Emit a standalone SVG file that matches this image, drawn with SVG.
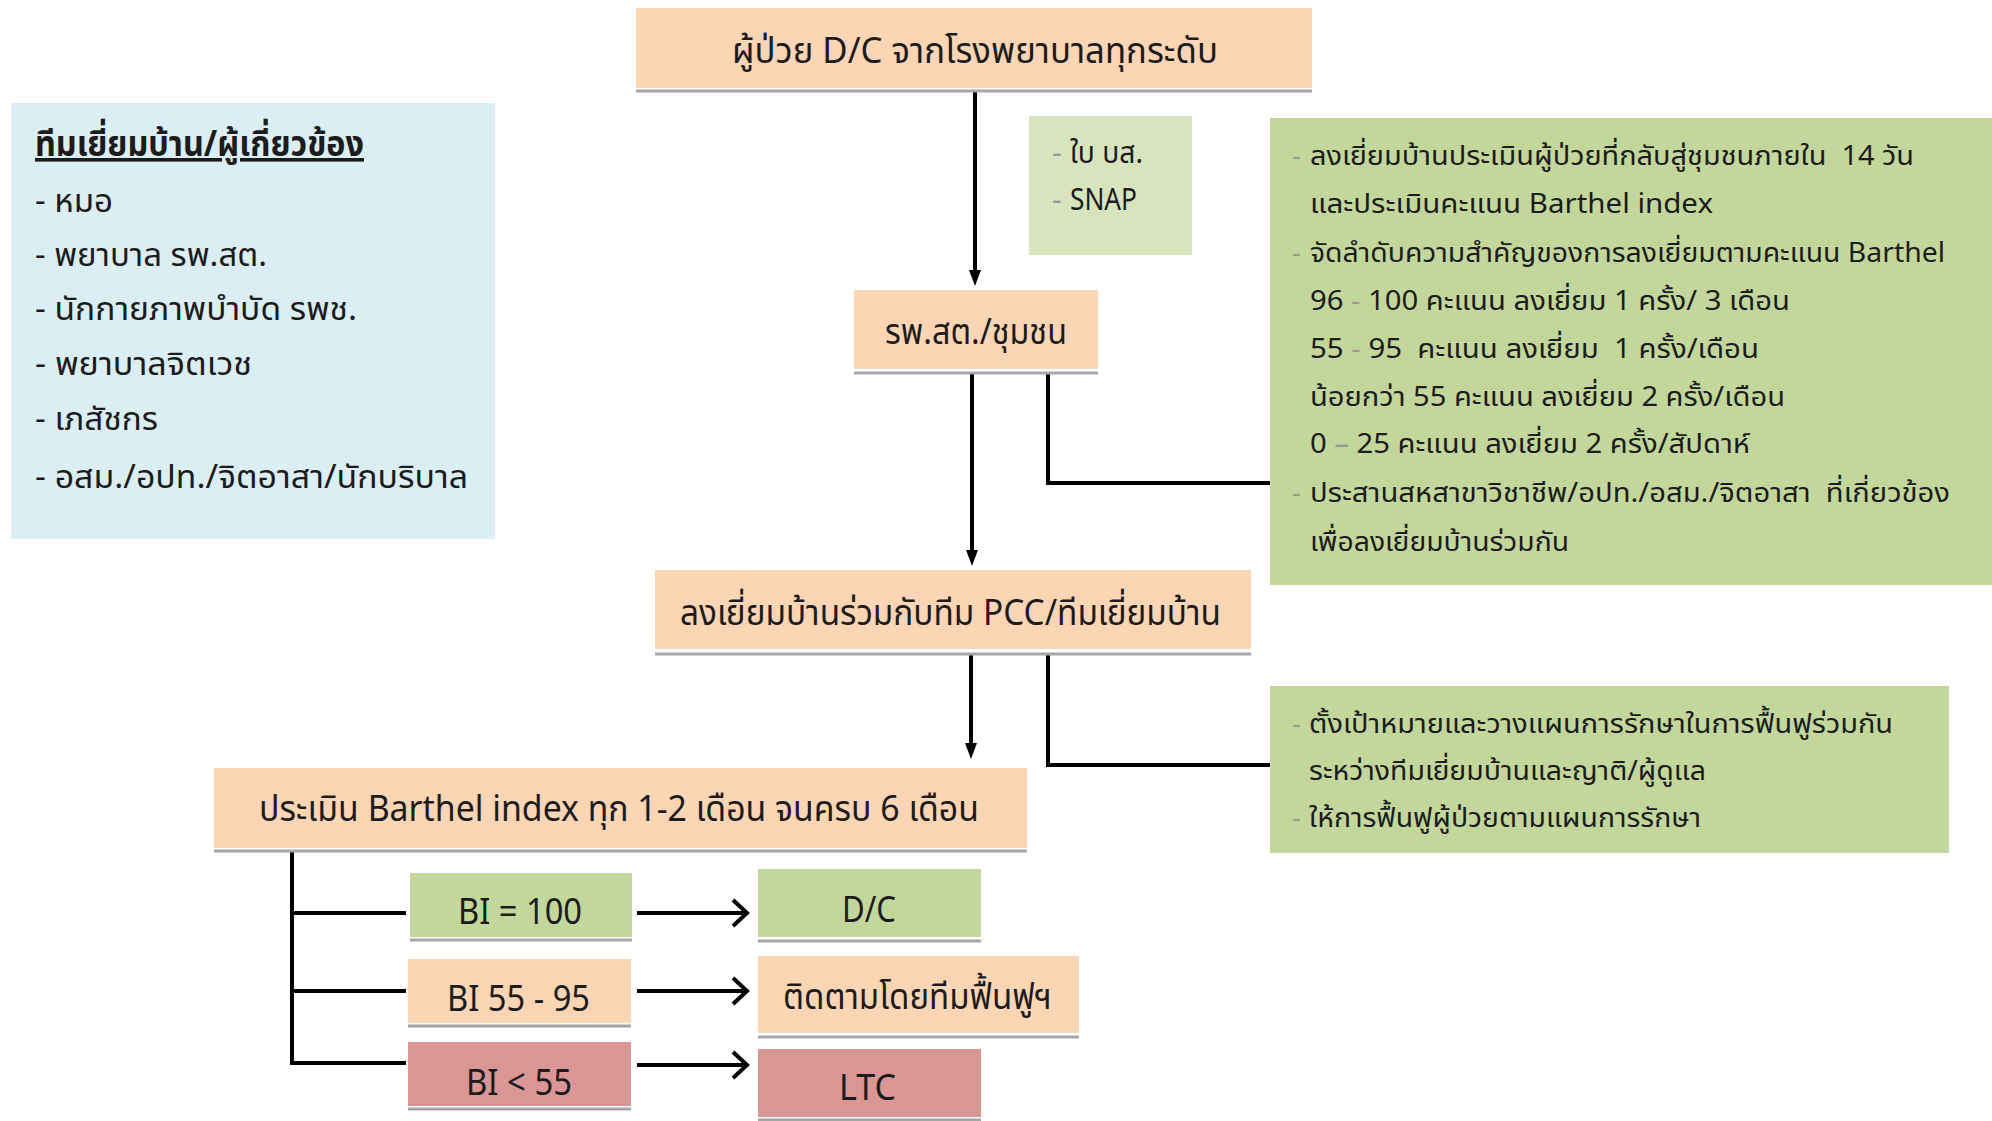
<svg xmlns="http://www.w3.org/2000/svg" width="1992" height="1121" viewBox="0 0 1992 1121">
<defs>
<style>
.t{font-family:"Noto Sans Thai","Noto Sans","DejaVu Sans",sans-serif;fill:#1c1c1c}
.peach{fill:#FCD5B5}
.green{fill:#C3D69B}
.lgreen{fill:#D7E4BD}
.blue{fill:#DBEEF4}
.red{fill:#D99694}
.sh{stroke:#A6A6A6;stroke-width:3;fill:none}
.ln{stroke:#000;stroke-width:4;fill:none}
.dash{fill:#9a9a9a}
.big{font-size:36px}
.mid{font-size:30px}
.sm{font-size:27px}
</style>
</defs>
<rect width="1992" height="1121" fill="#fff"/>

<g id="connectors">
<line class="ln" x1="975" y1="90" x2="975" y2="272"/>
<path d="M969,270 L981,270 L975,286 z" fill="#000"/>
<line class="ln" x1="972" y1="374" x2="972" y2="552"/>
<path d="M966,550 L978,550 L972,566 z" fill="#000"/>
<line class="ln" x1="971" y1="655" x2="971" y2="745"/>
<path d="M965,743 L977,743 L971,759 z" fill="#000"/>
<polyline class="ln" points="1048,374 1048,483 1270,483"/>
<polyline class="ln" points="1048,655 1048,765 1270,765"/>
<line class="ln" x1="292" y1="851" x2="292" y2="1065"/>
<line class="ln" x1="290" y1="913" x2="406" y2="913"/>
<line class="ln" x1="290" y1="991" x2="406" y2="991"/>
<line class="ln" x1="290" y1="1063" x2="406" y2="1063"/>
<line class="ln" x1="637" y1="913" x2="746" y2="913"/>
<polyline class="ln" points="733,900 747,913 733,926"/>
<line class="ln" x1="637" y1="991" x2="746" y2="991"/>
<polyline class="ln" points="733,978 747,991 733,1004"/>
<line class="ln" x1="637" y1="1065" x2="746" y2="1065"/>
<polyline class="ln" points="733,1052 747,1065 733,1078"/>
</g>

<g id="n-top">
<rect class="peach" x="636" y="8" width="676" height="80"/>
<line class="sh" x1="636" y1="91" x2="1312" y2="91"/>
<text class="t big" x="732" y="63" textLength="486" lengthAdjust="spacingAndGlyphs">ผู้ป่วย D/C จากโรงพยาบาลทุกระดับ</text>
</g>

<g id="n-team">
<rect class="blue" x="11" y="103" width="484" height="436"/>
<text class="t" x="35" y="156" font-size="36" font-weight="bold" text-decoration="underline" textLength="329" lengthAdjust="spacingAndGlyphs">ทีมเยี่ยมบ้าน/ผู้เกี่ยวข้อง</text>
<text class="t" x="35" y="212" font-size="32" textLength="78" lengthAdjust="spacingAndGlyphs">- หมอ</text>
<text class="t" x="35" y="266" font-size="32" textLength="232" lengthAdjust="spacingAndGlyphs">- พยาบาล รพ.สต.</text>
<text class="t" x="35" y="320" font-size="32" textLength="322" lengthAdjust="spacingAndGlyphs">- นักกายภาพบำบัด รพช.</text>
<text class="t" x="35" y="375" font-size="32" textLength="217" lengthAdjust="spacingAndGlyphs">- พยาบาลจิตเวช</text>
<text class="t" x="35" y="430" font-size="32" textLength="123" lengthAdjust="spacingAndGlyphs">- เภสัชกร</text>
<text class="t" x="35" y="488" font-size="32" textLength="433" lengthAdjust="spacingAndGlyphs">- อสม./อปท./จิตอาสา/นักบริบาล</text>
</g>

<g id="n-snap">
<rect class="lgreen" x="1029" y="116" width="163" height="139"/>
<text class="t dash mid" x="1052" y="163">-</text>
<text class="t mid" x="1070" y="163" textLength="73" lengthAdjust="spacingAndGlyphs">ใบ บส.</text>
<text class="t dash mid" x="1052" y="210">-</text>
<text class="t mid" x="1070" y="210" textLength="67" lengthAdjust="spacingAndGlyphs">SNAP</text>
</g>

<g id="n-visit-notes">
<rect class="green" x="1270" y="118" width="722" height="467"/>
<text class="t dash sm" x="1292" y="165">-</text>
<text class="t sm" x="1310" y="165" xml:space="preserve" textLength="604" lengthAdjust="spacingAndGlyphs">ลงเยี่ยมบ้านประเมินผู้ป่วยที่กลับสู่ชุมชนภายใน  14 วัน</text>
<text class="t sm" x="1310" y="213" textLength="403" lengthAdjust="spacingAndGlyphs">และประเมินคะแนน Barthel index</text>
<text class="t dash sm" x="1292" y="262">-</text>
<text class="t sm" x="1310" y="262" textLength="635" lengthAdjust="spacingAndGlyphs">จัดลำดับความสำคัญของการลงเยี่ยมตามคะแนน Barthel</text>
<text class="t sm" x="1310" y="310" textLength="480" lengthAdjust="spacingAndGlyphs">96 <tspan class="dash">-</tspan> 100 คะแนน ลงเยี่ยม 1 ครั้ง/ 3 เดือน</text>
<text class="t sm" x="1310" y="358" xml:space="preserve" textLength="449" lengthAdjust="spacingAndGlyphs">55 <tspan class="dash">-</tspan> 95  คะแนน ลงเยี่ยม  1 ครั้ง/เดือน</text>
<text class="t sm" x="1310" y="406" textLength="475" lengthAdjust="spacingAndGlyphs">น้อยกว่า 55 คะแนน ลงเยี่ยม 2 ครั้ง/เดือน</text>
<text class="t sm" x="1310" y="453" textLength="440" lengthAdjust="spacingAndGlyphs">0 <tspan class="dash">–</tspan> 25 คะแนน ลงเยี่ยม 2 ครั้ง/สัปดาห์</text>
<text class="t dash sm" x="1292" y="502">-</text>
<text class="t sm" x="1310" y="502" xml:space="preserve" textLength="640" lengthAdjust="spacingAndGlyphs">ประสานสหสาขาวิชาชีพ/อปท./อสม./จิตอาสา  ที่เกี่ยวข้อง</text>
<text class="t sm" x="1310" y="551" textLength="259" lengthAdjust="spacingAndGlyphs">เพื่อลงเยี่ยมบ้านร่วมกัน</text>
</g>

<g id="n-rpst">
<rect class="peach" x="854" y="290" width="244" height="79"/>
<line class="sh" x1="854" y1="373" x2="1098" y2="373"/>
<text class="t big" x="885" y="344" textLength="182" lengthAdjust="spacingAndGlyphs">รพ.สต./ชุมชน</text>
</g>

<g id="n-pcc">
<rect class="peach" x="655" y="570" width="596" height="79"/>
<line class="sh" x1="655" y1="654" x2="1251" y2="654"/>
<text class="t big" x="680" y="625" textLength="541" lengthAdjust="spacingAndGlyphs">ลงเยี่ยมบ้านร่วมกับทีม PCC/ทีมเยี่ยมบ้าน</text>
</g>

<g id="n-plan-notes">
<rect class="green" x="1270" y="686" width="679" height="167"/>
<text class="t dash sm" x="1292" y="733">-</text>
<text class="t sm" x="1309" y="733" textLength="584" lengthAdjust="spacingAndGlyphs">ตั้งเป้าหมายและวางแผนการรักษาในการฟื้นฟูร่วมกัน</text>
<text class="t sm" x="1309" y="780" textLength="397" lengthAdjust="spacingAndGlyphs">ระหว่างทีมเยี่ยมบ้านและญาติ/ผู้ดูแล</text>
<text class="t dash sm" x="1292" y="827">-</text>
<text class="t sm" x="1309" y="827" textLength="392" lengthAdjust="spacingAndGlyphs">ให้การฟื้นฟูผู้ป่วยตามแผนการรักษา</text>
</g>

<g id="n-barthel">
<rect class="peach" x="214" y="768" width="813" height="80"/>
<line class="sh" x1="214" y1="851" x2="1027" y2="851"/>
<text class="t big" x="259" y="821" textLength="720" lengthAdjust="spacingAndGlyphs">ประเมิน Barthel index ทุก 1-2 เดือน จนครบ 6 เดือน</text>
</g>

<g id="n-bi100">
<rect class="green" x="410" y="873" width="222" height="64"/>
<line class="sh" x1="410" y1="940" x2="632" y2="940"/>
<text class="t big" x="458" y="924" textLength="124" lengthAdjust="spacingAndGlyphs">BI = 100</text>
</g>
<g id="n-bi55">
<rect class="peach" x="408" y="959" width="223" height="64"/>
<line class="sh" x1="408" y1="1026" x2="631" y2="1026"/>
<text class="t big" x="447" y="1011" textLength="143" lengthAdjust="spacingAndGlyphs">BI 55 - 95</text>
</g>
<g id="n-bilt55">
<rect class="red" x="408" y="1042" width="223" height="64"/>
<line class="sh" x1="408" y1="1109" x2="631" y2="1109"/>
<text class="t big" x="466" y="1095" textLength="106" lengthAdjust="spacingAndGlyphs">BI &lt; 55</text>
</g>
<g id="n-dc">
<rect class="green" x="758" y="869" width="223" height="68"/>
<line class="sh" x1="758" y1="941" x2="981" y2="941"/>
<text class="t big" x="842" y="922" textLength="54" lengthAdjust="spacingAndGlyphs">D/C</text>
</g>
<g id="n-follow">
<rect class="peach" x="758" y="956" width="321" height="77"/>
<line class="sh" x1="758" y1="1037" x2="1079" y2="1037"/>
<text class="t big" x="783" y="1009" textLength="269" lengthAdjust="spacingAndGlyphs">ติดตามโดยทีมฟื้นฟูฯ</text>
</g>
<g id="n-ltc">
<rect class="red" x="758" y="1049" width="223" height="68"/>
<line class="sh" x1="758" y1="1120" x2="981" y2="1120"/>
<text class="t big" x="839" y="1100" textLength="57" lengthAdjust="spacingAndGlyphs">LTC</text>
</g>
</svg>
